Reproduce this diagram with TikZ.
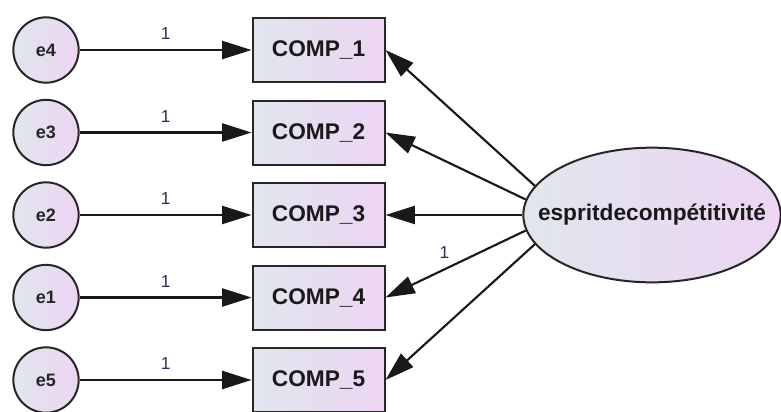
\documentclass[tikz,border=0pt]{standalone}
\usepackage{fontspec}
\setmainfont{Liberation Sans}
\usetikzlibrary{arrows.meta}
\usetikzlibrary{shapes.geometric}
\definecolor{fillL}{HTML}{E0E6EE}
\definecolor{fillR}{HTML}{EDD5F3}
\definecolor{labcol}{HTML}{2E2E5C}
\tikzset{
  errcirc/.style={circle,draw=black!85,line width=1.5pt,minimum size=49pt,inner sep=0pt,left color=fillL,right color=fillR,font=\bfseries\fontsize{13.5}{15}\selectfont,text=black!85},
  obsbox/.style={rectangle,draw=black!85,line width=1.5pt,minimum width=99pt,minimum height=48pt,inner sep=0pt,left color=fillL,right color=fillR,font=\bfseries\fontsize{17}{20}\selectfont,text=black!90},
  latell/.style={ellipse,draw=black!85,line width=1.5pt,minimum width=193pt,minimum height=101pt,inner xsep=-18pt,inner ysep=0pt,left color=fillL,right color=fillR,font=\bfseries\fontsize{17}{20}\selectfont,text=black!90},
  regpath/.style={-{Triangle[length=22pt,width=13.5pt]},line width=1.6pt,black!90},
  lab/.style={font=\fontsize{13}{15}\selectfont,text=labcol,inner sep=1pt}
}
\begin{document}
\begin{tikzpicture}[x=0.75pt,y=-0.75pt]
\useasboundingbox (0,0) rectangle (781,411);
% error terms
\node[errcirc] (e4) at (46,50) {e4};
\node[errcirc] (e3) at (46,132.5) {e3};
\node[errcirc] (e2) at (46,215) {e2};
\node[errcirc] (e1) at (46,297.5) {e1};
\node[errcirc] (e5) at (46,380) {e5};
% observed variables
\node[obsbox] (c1) at (318.5,50) {COMP\_1};
\node[obsbox] (c2) at (318.5,132.5) {COMP\_2};
\node[obsbox] (c3) at (318.5,215) {COMP\_3};
\node[obsbox] (c4) at (318.5,297.5) {COMP\_4};
\node[obsbox] (c5) at (318.5,380) {COMP\_5};
% latent variable
\node[latell] (lat) at (652,215) {espritdecompétitivité};

\draw[regpath] (e4) -- node[lab,above=6pt] {1} (c1);
\draw[regpath] (e3) -- node[lab,above=6pt] {1} (c2);
\draw[regpath] (e2) -- node[lab,above=6pt] {1} (c3);
\draw[regpath] (e1) -- node[lab,above=6pt] {1} (c4);
\draw[regpath] (e5) -- node[lab,above=6pt] {1} (c5);

\draw[regpath] (lat.166) -- (c1.east);
\draw[regpath] (lat.173) -- (c2.east);
\draw[regpath] (lat.180) -- (c3.east);
\draw[regpath] (lat.187) -- node[lab,pos=0.58,above=6pt] {1} (c4.east);
\draw[regpath] (lat.194) -- (c5.east);
\end{tikzpicture}
\end{document}
